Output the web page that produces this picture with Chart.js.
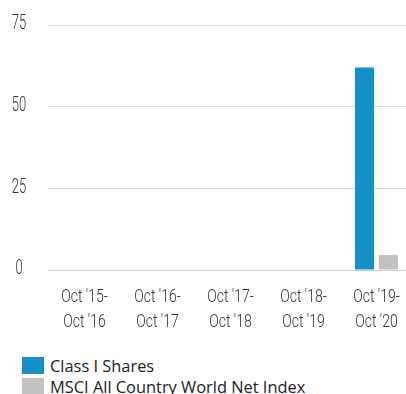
<!DOCTYPE html>
<html>
<head>
<meta charset="utf-8">
<script src="https://cdn.jsdelivr.net/npm/chart.js@4/dist/chart.umd.min.js"></script>
<style>
    html, body {
        margin: 0;
        padding: 0;
        background: #fff;
        width: 406px;
        height: 394px;
        overflow: hidden;
        position: relative;
    }
    #wrap {
        position: absolute;
        left: 0;
        top: 0;
        width: 414px;
        height: 340px;
    }
    #legend {
        position: absolute;
        left: 22px;
        top: 357px;
        font-family: "Open Sans", "Noto Sans", sans-serif;
        font-size: 16.4px;
        color: #222;
    }
    .legend-row {
        display: flex;
        align-items: center;
        height: 17px;
        margin-bottom: 4px;
    }
    .legend-box {
        width: 22px;
        height: 17px;
        margin-right: 6px;
        flex: none;
    }
</style>
</head>
<body>
<div id="wrap"><canvas id="chart-returns"></canvas></div>
<div id="legend"></div>

<script>
// 年度回报：Class I 与 MSCI 指数对比
const periods = [
    ["Oct '15-", "Oct '16"],
    ["Oct '16-", "Oct '17"],
    ["Oct '17-", "Oct '18"],
    ["Oct '18-", "Oct '19"],
    ["Oct '19-", "Oct '20"]
];
const classIShares = [null, null, null, null, 62];
const msciIndex = [null, null, null, null, 4.6];
const yTicks = [0, 25, 50, 75];

const seriesNames = ['Class I Shares', 'MSCI All Country World Net Index'];
const seriesColors = ['#1790ca', '#c2c2c2'];

const tickFamily = '"Roboto", "Liberation Sans", sans-serif';

function renderLegend() {
    const legendEl = document.getElementById('legend');
    seriesNames.forEach((name, i) => {
        const row = document.createElement('div');
        row.className = 'legend-row';
        const box = document.createElement('div');
        box.className = 'legend-box';
        box.style.background = seriesColors[i];
        const label = document.createElement('span');
        label.textContent = name;
        row.appendChild(box);
        row.appendChild(label);
        legendEl.appendChild(row);
    });
}

// 横向压缩画一段文字，模拟窄体字
function drawNarrow(ctx, text, x, y, squeeze) {
    ctx.save();
    ctx.translate(x, y);
    ctx.scale(squeeze, 1);
    ctx.fillText(text, 0, 0);
    ctx.restore();
}

// 坐标轴刻度文字重画（位置取自 scale）
const narrowTicks = {
    id: 'narrowTicks',
    afterDraw(chart) {
        const ctx = chart.ctx;
        const xScale = chart.scales.x;
        const yScale = chart.scales.y;
        ctx.save();
        ctx.fillStyle = '#333';
        ctx.textBaseline = 'middle';
        ctx.textAlign = 'center';

        ctx.font = `300 21px ${tickFamily}`;
        yScale.ticks.forEach((t, i) => {
            drawNarrow(ctx, String(t.value), 19, yScale.getPixelForTick(i) - 1, 0.62);
        });

        ctx.font = `300 18px ${tickFamily}`;
        xScale.ticks.forEach((t, i) => {
            const x = xScale.getPixelForTick(i);
            periods[i].forEach((line, j) => {
                drawNarrow(ctx, line, x, 297 + j * 25, 0.78);
            });
        });
        ctx.restore();
    }
};

const canvas = document.getElementById('chart-returns');
new Chart(canvas.getContext('2d'), {
    type: 'bar',
    data: {
        labels: periods,
        datasets: [
            {
                label: seriesNames[0],
                data: classIShares,
                backgroundColor: seriesColors[0]
            },
            {
                label: seriesNames[1],
                data: msciIndex,
                backgroundColor: seriesColors[1]
            }
        ]
    },
    options: {
        responsive: true,
        maintainAspectRatio: false,
        animation: false,
        layout: {
            padding: { top: 25, right: 1, bottom: 0, left: 0 }
        },
        datasets: {
            bar: {
                categoryPercentage: 0.655,
                barPercentage: 0.8
            }
        },
        scales: {
            x: {
                grid: { display: false },
                border: { display: false },
                afterFit: (axis) => {
                    axis.height = 70;
                },
                ticks: {
                    color: 'rgba(0,0,0,0)',
                    maxRotation: 0
                }
            },
            y: {
                min: 0,
                max: 75,
                afterBuildTicks: (axis) => {
                    axis.ticks = yTicks.map(v => ({ value: v }));
                },
                afterFit: (axis) => {
                    axis.width = 48;
                },
                border: { display: false },
                grid: {
                    drawTicks: false,
                    lineWidth: 1,
                    color: (ctx) => (ctx.tick && ctx.tick.value === 0 ? '#c9d5e2' : '#dcdcdc')
                },
                ticks: {
                    color: 'rgba(0,0,0,0)',
                    font: { size: 1 }
                }
            }
        },
        plugins: {
            legend: { display: false },
            tooltip: { enabled: false }
        }
    },
    plugins: [narrowTicks]
});

renderLegend();
</script>
</body>
</html>
